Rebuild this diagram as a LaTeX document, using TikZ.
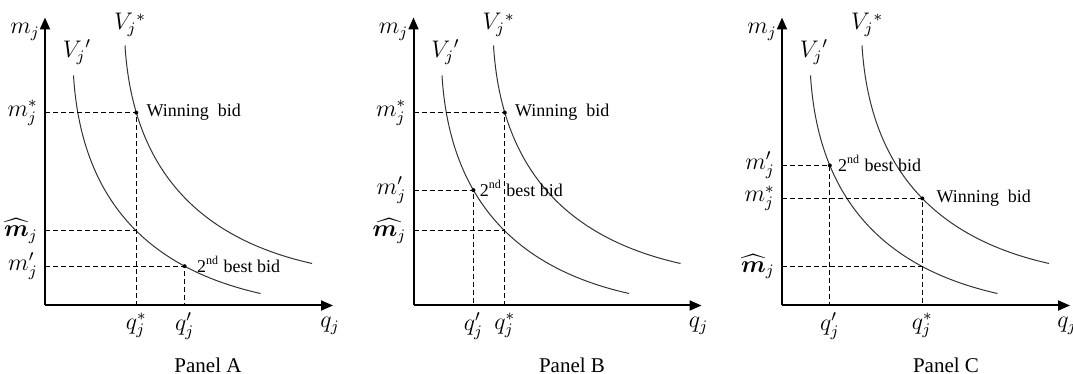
\documentclass[tikz,border=0pt]{standalone}
\usepackage{amsmath}
\usepackage{fontspec}
\setmainfont{Liberation Serif}
\usetikzlibrary{arrows.meta,positioning,intersections}

\tikzset{
  axis/.style={line width=1pt, -{Triangle[length=6pt,width=5pt]}},
  indiff/.style={line width=0.5pt, black!80},
  guide/.style={line width=0.5pt, dash pattern=on 2.5pt off 1.5pt},
  mathlbl/.style={font=\fontsize{12}{14}\selectfont, inner sep=1pt},
  mtick/.style={font=\fontsize{12}{14}\selectfont, inner sep=0.5pt, anchor=east, xshift=-3pt},
  qtick/.style={font=\fontsize{12}{14}\selectfont, inner sep=0.5pt, anchor=north, yshift=-3pt},
  bidlbl/.style={font=\fontsize{9}{11}\selectfont, inner sep=0pt, anchor=west},
  panel/.style={font=\fontsize{10.5}{12}\selectfont}
}

\begin{document}
\begin{tikzpicture}[x=0.5pt, y=0.5pt]
\useasboundingbox (0,0) rectangle (1073,374);

% Panel A
\begin{scope}[shift={(45,68.5)}]
  \coordinate (oA) at (0,0);
  \draw[axis] (oA) -- (0,288);
  \draw[axis] (oA) -- (288,0);
  \node[mathlbl] (mjA) at (-20,273.5) {$m_j$};
  \node[mathlbl] (qjA) at (285,-20.5) {$q_j$};
  \draw[indiff] (80,260) .. controls (88,130) and (160,66) .. (267,42) coordinate[pos=0.19] (winA);
  \draw[indiff, name path=vpA] (28.5,230) .. controls (36.5,100) and (108.5,36) .. (215.5,12) coordinate[pos=0.74] (secA);
  \node[mathlbl] (vsA) at (85,280.5) {$V_j{}^{*}$};
  \node[mathlbl] (vpLblA) at (32,253.5) {$V_j{}'$};
  \path[name path=qsA] (winA) -- (winA |- oA);
  \path[name intersections={of=vpA and qsA, by=hatA}];
  \draw[guide] (winA -| oA) -- (winA) -- (winA |- oA);
  \draw[guide] (secA -| oA) -- (secA) -- (secA |- oA);
  \draw[guide] (hatA -| oA) -- (hatA);
  \fill (winA) circle (2);
  \fill (secA) circle (2);
  \node[bidlbl] (winLblA) at ([xshift=5pt]winA) {Winning\ \ bid};
  \node[bidlbl] (secLblA) at ([xshift=6pt,yshift=1pt]secA) {2\textsuperscript{nd} best bid};
  \node[mtick] (mstarA) at (winA -| oA) {$m_j^*$};
  \node[mtick] (mhatA) at (hatA -| oA) {$\widehat{\boldsymbol{m}}_j$};
  \node[mtick] (mprA) at (secA -| oA) {$m_j'$};
  \node[qtick] (qstarA) at (winA |- oA) {$q_j^*$};
  \node[qtick] (qprA) at (secA |- oA) {$q_j'$};
\end{scope}

% Panel B
\begin{scope}[shift={(413.5,68.5)}]
  \coordinate (oB) at (0,0);
  \draw[axis] (oB) -- (0,288);
  \draw[axis] (oB) -- (288,0);
  \node[mathlbl] (mjB) at (-20,273.5) {$m_j$};
  \node[mathlbl] (qjB) at (285,-20.5) {$q_j$};
  \draw[indiff] (80,260) .. controls (88,130) and (160,66) .. (267,42) coordinate[pos=0.19] (winB);
  \draw[indiff, name path=vpB] (28.5,230) .. controls (36.5,100) and (108.5,36) .. (215.5,12) coordinate[pos=0.355] (secB);
  \node[mathlbl] (vsB) at (85,280.5) {$V_j{}^{*}$};
  \node[mathlbl] (vpLblB) at (32,253.5) {$V_j{}'$};
  \path[name path=qsB] (winB) -- (winB |- oB);
  \path[name intersections={of=vpB and qsB, by=hatB}];
  \draw[guide] (winB -| oB) -- (winB) -- (winB |- oB);
  \draw[guide] (secB -| oB) -- (secB) -- (secB |- oB);
  \draw[guide] (hatB -| oB) -- (hatB);
  \fill (winB) circle (2);
  \fill (secB) circle (2);
  \node[bidlbl] (winLblB) at ([xshift=5pt]winB) {Winning\ \ bid};
  \node[bidlbl] (secLblB) at ([xshift=3pt,yshift=1pt]secB) {2\textsuperscript{nd} best bid};
  \node[mtick] (mstarB) at (winB -| oB) {$m_j^*$};
  \node[mtick] (mhatB) at (hatB -| oB) {$\widehat{\boldsymbol{m}_j}$};
  \node[mtick] (mprB) at (secB -| oB) {$m_j'$};
  \node[qtick] (qstarB) at (winB |- oB) {$q_j^*$};
  \node[qtick] (qprB) at (secB |- oB) {$q_j'$};
\end{scope}

% Panel C
\begin{scope}[shift={(782,68.5)}]
  \coordinate (oC) at (0,0);
  \draw[axis] (oC) -- (0,288);
  \draw[axis] (oC) -- (288,0);
  \node[mathlbl] (mjC) at (-20,273.5) {$m_j$};
  \node[mathlbl] (qjC) at (285,-20.5) {$q_j$};
  \draw[indiff] (80,260) .. controls (88,130) and (160,66) .. (267,42) coordinate[pos=0.52] (winC);
  \draw[indiff, name path=vpC] (28.5,230) .. controls (36.5,100) and (108.5,36) .. (215.5,12) coordinate[pos=0.265] (secC);
  \node[mathlbl] (vsC) at (85,280.5) {$V_j{}^{*}$};
  \node[mathlbl] (vpLblC) at (32,253.5) {$V_j{}'$};
  \path[name path=qsC] (winC) -- (winC |- oC);
  \path[name intersections={of=vpC and qsC, by=hatC}];
  \draw[guide] (winC -| oC) -- (winC) -- (winC |- oC);
  \draw[guide] (secC -| oC) -- (secC) -- (secC |- oC);
  \draw[guide] (hatC -| oC) -- (hatC);
  \fill (winC) circle (2);
  \fill (secC) circle (2);
  \node[bidlbl] (winLblC) at ([xshift=7pt]winC) {Winning\ \ bid};
  \node[bidlbl] (secLblC) at ([xshift=4pt,yshift=1pt]secC) {2\textsuperscript{nd} best bid};
  \node[mtick] (mstarC) at (winC -| oC) {$m_j^*$};
  \node[mtick] (mhatC) at (hatC -| oC) {$\widehat{\boldsymbol{m}}_j$};
  \node[mtick] (mprC) at (secC -| oC) {$m_j'$};
  \node[qtick] (qstarC) at (winC |- oC) {$q_j^*$};
  \node[qtick] (qprC) at (secC |- oC) {$q_j'$};
\end{scope}

\node[panel] (panA) at (208,9) {Panel A};
\node[panel] (panB) at (572,9) {Panel B};
\node[panel] (panC) at (946,9) {Panel C};
\end{tikzpicture}
\end{document}
